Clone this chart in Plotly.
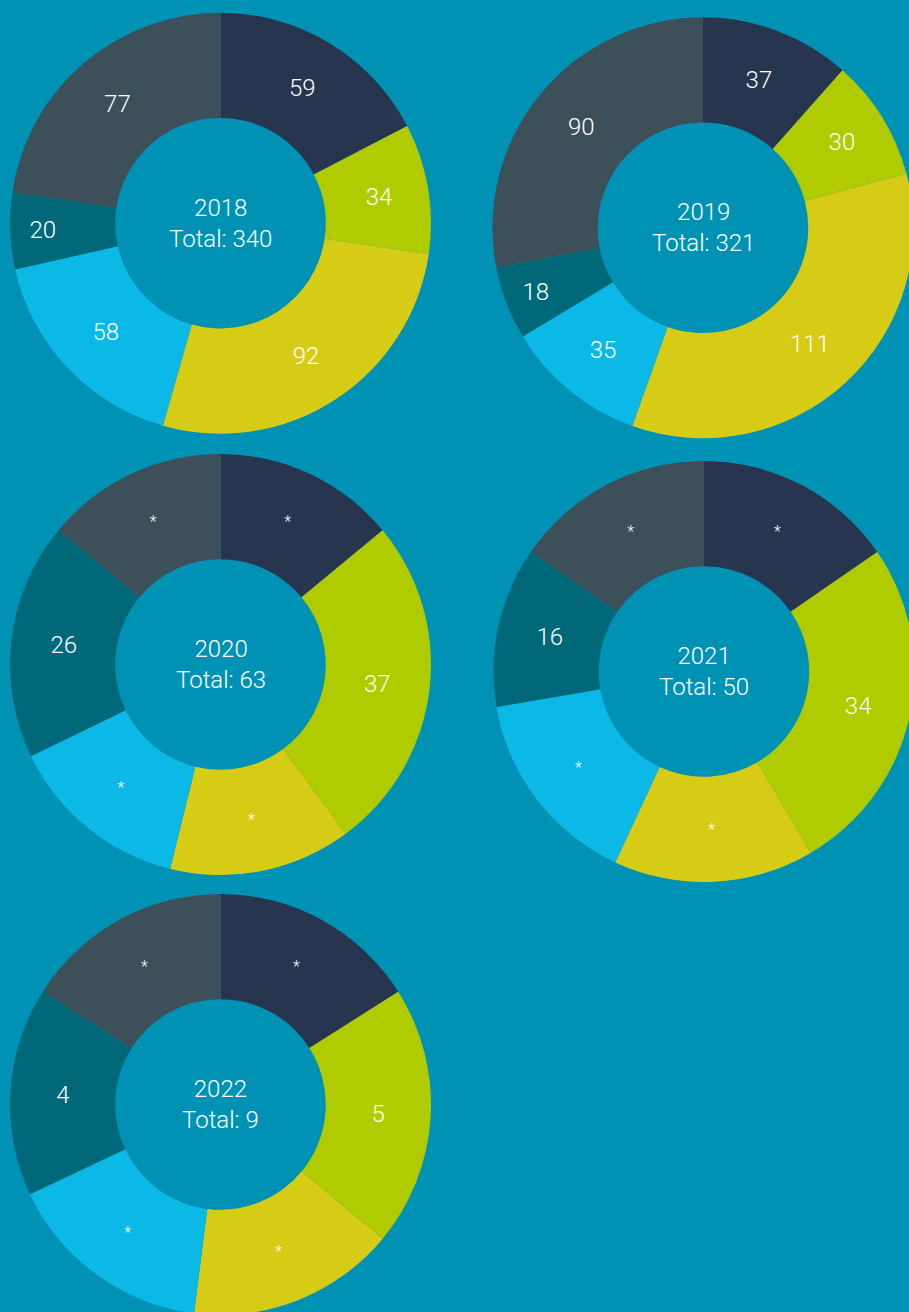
import plotly.graph_objects as go

# ---- data ----
categories = ["Group A", "Group B", "Group C", "Group D", "Group E", "Group F"]
colors = ["#27354F", "#B0CB00", "#D6CC16", "#0CB8E6", "#006878", "#3D505A"]
years = ["2018", "2019", "2020", "2021", "2022"]
totals = [340, 321, 63, 50, 9]

# slice sizes as drawn (suppressed values "*" shown with a placeholder size)
values_2018 = [59, 34, 92, 58, 20, 77]
values_2019 = [37, 30, 111, 35, 18, 90]
values_2020 = [20, 37, 20, 20, 26, 20]
values_2021 = [20, 34, 20, 20, 16, 20]
values_2022 = [4, 5, 4, 4, 4, 4]

text_2018 = ["59", "34", "92", "58", "20", "77"]
text_2019 = ["37", "30", "111", "35", "18", "90"]
text_2020 = ["*", "37", "*", "*", "26", "*"]
text_2021 = ["*", "34", "*", "*", "16", "*"]
text_2022 = ["*", "5", "*", "*", "4", "*"]

all_values = [values_2018, values_2019, values_2020, values_2021, values_2022]
all_text = [text_2018, text_2019, text_2020, text_2021, text_2022]

# ---- layout geometry (pixels) ----
W, H = 920, 1320
R = 210.5
centers = [(220.5, 223.2), (703.0, 227.8), (220.5, 664.5), (704.0, 671.5), (220.5, 1104.5)]
BG = "#0092B4"
FONT = "Roboto"

fig = go.Figure()
annotations = []
for yr, tot, vals, txt, (cx, cy) in zip(years, totals, all_values, all_text, centers):
    dx = [(cx - R) / W, (cx + R) / W]
    dy = [1 - (cy + R) / H, 1 - (cy - R) / H]
    sizes = [16 if t == "*" else 24 for t in txt]
    fig.add_trace(go.Pie(
        labels=categories,
        values=vals,
        text=txt,
        textinfo="text",
        textposition="inside",
        insidetextorientation="horizontal",
        textfont=dict(color="white", size=sizes, family=FONT, weight=300),
        marker=dict(colors=colors, line=dict(width=0)),
        hole=0.5,
        sort=False,
        direction="clockwise",
        rotation=0,
        showlegend=False,
        domain=dict(x=dx, y=dy),
        hoverinfo="label+text",
    ))
    annotations.append(dict(
        x=cx / W, y=1 - cy / H, xref="paper", yref="paper",
        text=f"{yr}<br>Total: {tot}", showarrow=False,
        font=dict(color="white", size=24, family=FONT, weight=300),
        xanchor="center", yanchor="middle", align="center",
    ))

fig.update_layout(
    width=W, height=H,
    margin=dict(l=0, r=0, t=0, b=0),
    paper_bgcolor=BG, plot_bgcolor=BG,
    annotations=annotations,
    showlegend=False,
)

post = (
    "document.body.style.margin='0';"
    "document.body.style.background='" + BG + "';"
    "var d=document.getElementById('{plot_id}');"
    "var p=d.parentElement;p.style.width='909px';p.style.height='1312px';p.style.overflow='hidden';"
    "document.documentElement.style.overflow='hidden';"
)
fig.write_html("out.html", post_script=post, config={"displayModeBar": False})
